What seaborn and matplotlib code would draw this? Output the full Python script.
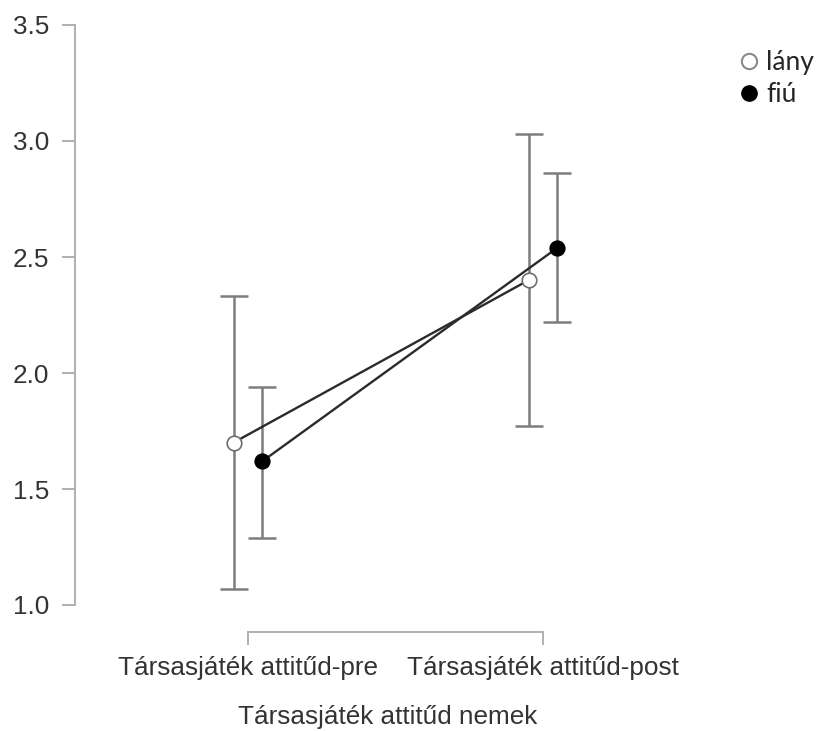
import numpy as np
import pandas as pd
import matplotlib
matplotlib.use("Agg")
import matplotlib.pyplot as plt
import seaborn as sns
from matplotlib.lines import Line2D

categories = ["Társasjáték attitűd-pre", "Társasjáték attitűd-post"]
groups = ["lány", "fiú"]
lany_mean = [1.70, 2.40]
lany_lower = [1.07, 1.77]
lany_upper = [2.33, 3.03]
fiu_mean = [1.62, 2.54]
fiu_lower = [1.29, 2.22]
fiu_upper = [1.94, 2.86]
y_ticks = [1.0, 1.5, 2.0, 2.5, 3.0, 3.5]
x_title = "Társasjáték attitűd nemek"

sns.set_theme(style="ticks")
plt.rcParams['font.family'] = ['Liberation Sans', 'DejaVu Sans']

W, H = 834, 731
fig = plt.figure(figsize=(W / 100, H / 100), dpi=100)
ax = fig.add_axes([75 / W, 1 - 632 / H, (700 - 75) / W, (632 - 25) / H])

offsets = {"lány": -0.049, "fiú": 0.049}
series = {"lány": (lany_mean, lany_lower, lany_upper),
          "fiú": (fiu_mean, fiu_lower, fiu_upper)}
rows = []
for g in groups:
    m, lo, hi = series[g]
    for i, c in enumerate(categories):
        rows.append(dict(group=g, cat=c, pos=i + offsets[g], mean=m[i], lo=lo[i], hi=hi[i]))
df = pd.DataFrame(rows)

for g in groups:
    d = df[df.group == g]
    ax.errorbar(d["pos"], d["mean"], yerr=[d["mean"] - d["lo"], d["hi"] - d["mean"]],
                fmt="none", ecolor="#7d7d7d", elinewidth=1.8, capsize=10, capthick=1.8, zorder=1)

sns.lineplot(data=df, x="pos", y="mean", units="group", estimator=None, color="#2b2b2b",
             lw=1.7, ax=ax, zorder=2, legend=False)
face = {"lány": "white", "fiú": "black"}
edge = {"lány": "#6e6e6e", "fiú": "black"}
for g in groups:
    sns.scatterplot(data=df[df.group == g], x="pos", y="mean", color=face[g], edgecolor=edge[g],
                    linewidth=1.2, s=110, ax=ax, zorder=3, legend=False)

ax.set_xlim(-(248 - 75) / 295, 1 + (700 - 543) / 295)
ax.set_ylim(3.5 - (632 - 25) / 232, 3.5)
ax.set_xticks([0, 1], categories)
ax.set_yticks(y_ticks, [f"{v:.1f}" for v in y_ticks])
ax.spines["top"].set_visible(False)
ax.spines["right"].set_visible(False)
for s in ("left", "bottom"):
    ax.spines[s].set_color("#b0b0b0")
    ax.spines[s].set_linewidth(1.4)
ax.spines["left"].set_bounds(1.0, 3.5)
ax.spines["bottom"].set_bounds(0, 1)
ax.tick_params(axis="both", colors="#b0b0b0", length=9.5, width=1.4, labelcolor="#333333",
               labelsize=18.8)
ax.tick_params(axis="y", pad=9)
ax.tick_params(axis="x", pad=8)
ax.set_xlabel(x_title, fontsize=18.8, color="#333333", labelpad=18)
ax.set_ylabel("")

handles = [Line2D([], [], ls="none", marker="o", mfc="white", mec="#8a8a8a", mew=1.5, ms=11),
           Line2D([], [], ls="none", marker="o", mfc="black", mec="black", ms=11)]
fig.legend(handles, groups, loc="upper left", bbox_to_anchor=(724 / W, 1 - 37 / H),
           frameon=False, prop={"family": "Lato", "size": 19}, handletextpad=0.2,
           labelspacing=0.25, handlelength=0.9, borderpad=0)

fig.savefig("out.png", dpi=100)
